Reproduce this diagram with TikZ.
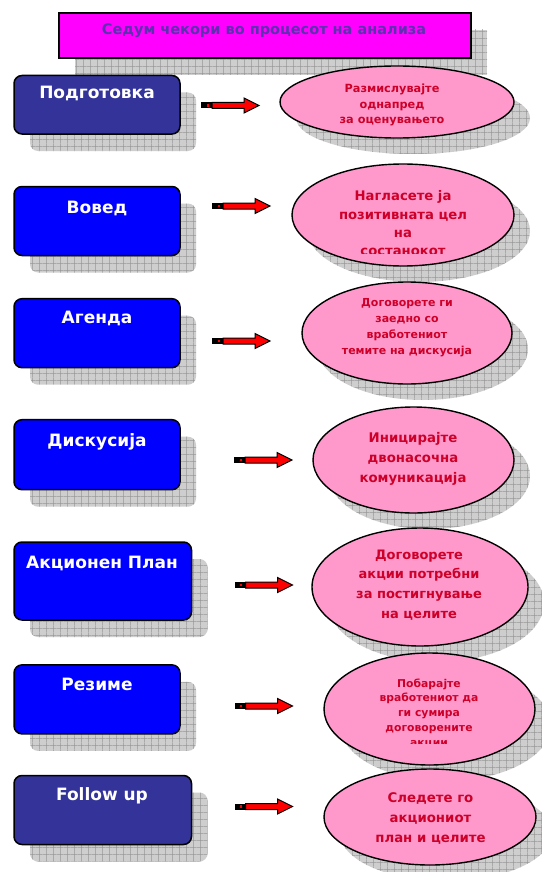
\documentclass[tikz,border=0pt]{standalone}
\usepackage{fontspec}
\setmainfont{DejaVu Sans}
\usetikzlibrary{shapes.geometric,patterns.meta}

\definecolor{navybox}{RGB}{51,51,153}
\definecolor{bluebox}{RGB}{0,0,255}
\definecolor{pinkfill}{RGB}{255,153,204}
\definecolor{redtext}{RGB}{204,0,40}
\definecolor{titlefill}{RGB}{255,0,255}
\definecolor{titletext}{RGB}{90,50,175}
\definecolor{shadowgray}{RGB}{206,206,206}
\definecolor{gridgray}{RGB}{150,150,150}

% checkered grid used inside the drop shadows
\tikzdeclarepattern{
  name=shadowgrid,
  type=uncolored,
  bottom left={(0pt,0pt)},
  top right={(7.3pt,7.3pt)},
  tile size={(7.3pt,7.3pt)},
  code={
    \draw[line width=0.45pt] (0pt,3.65pt) -- (7.3pt,3.65pt) (3.65pt,0pt) -- (3.65pt,7.3pt);
  }
}

\tikzset{
  gridshadow/.style={draw=none, fill=shadowgray, postaction={pattern=shadowgrid, pattern color=gridgray}},
  plainshadow/.style={rectangle, inner sep=0pt, gridshadow},
  titlebox/.style={rectangle, inner sep=0pt, draw=black, line width=1.5pt, fill=titlefill},
  titlelabel/.style={text=titletext, font=\bfseries\fontsize{14.5}{17}\selectfont, anchor=mid, inner sep=0pt},
  boxshadow/.style={rectangle, rounded corners=8pt, inner sep=0pt, gridshadow},
  stepbox/.style={rectangle, rounded corners=8pt, draw=black, line width=1.5pt, inner sep=0pt},
  boxlabel/.style={text=white, font=\bfseries\fontsize{17}{20}\selectfont, anchor=mid, inner sep=0pt},
  ellshadow/.style={ellipse, inner sep=0pt, gridshadow},
  goalellipse/.style={ellipse, draw=black, line width=1.4pt, fill=pinkfill, inner sep=0pt},
  goallabel/.style 2 args={text=redtext, align=center, inner sep=0pt,
    font=\bfseries\fontsize{#1}{#2}\selectfont},
  fatarrow/.pic={
    \fill[black] (0,-3) rectangle (11,3);
    \fill[red] (5.5,-1.4) rectangle (7.5,1.4);
    \draw[fill=red, line width=1pt, line join=miter]
      (11,-3) -- (43,-3) -- (43,-7.5) -- (58,0) -- (43,7.5) -- (43,3) -- (11,3) -- cycle;
  }
}

\begin{document}
\begin{tikzpicture}[x=1pt, y=-1pt]
\useasboundingbox[fill=white] (0,0) rectangle (541,872);

% heading
\node[plainshadow, minimum width=412pt, minimum height=45pt] (titleshadow) at (281,52.5) {};
\node[titlebox, minimum width=412pt, minimum height=45pt] (title) at (265,35.5) {};
\node[titlelabel] (titletext) at (264,32) {Седум чекори во процесот на анализа};

% 1. preparation
\node[boxshadow, minimum width=166pt, minimum height=58.5pt] (r1s) at (113,121.75) {};
\node[stepbox, fill=navybox, minimum width=166pt, minimum height=58.5pt] (r1) at (97,104.75) {};
\node[boxlabel] (r1t) at (97,96) {Подготовка};
\coordinate (a1) at (201,105.5);
\pic at (a1) {fatarrow};
\node[ellshadow, minimum width=234pt, minimum height=72pt] (e1s) at (413,118) {};
\node[goalellipse, minimum width=234pt, minimum height=72pt] (e1) at (397,102) {};
\node[goallabel={11.3}{15.5}] (e1t) at (392,105) {Размислувајте\\однапред\\за оценувањето};

% 2. introduction
\node[boxshadow, minimum width=166pt, minimum height=69pt] (r2s) at (113,238) {};
\node[stepbox, fill=bluebox, minimum width=166pt, minimum height=69pt] (r2) at (97,221) {};
\node[boxlabel] (r2t) at (97,211) {Вовед};
\coordinate (a2) at (212,206);
\pic at (a2) {fatarrow};
\node[ellshadow, minimum width=222pt, minimum height=102pt] (e2s) at (419,231) {};
\node[goalellipse, minimum width=222pt, minimum height=102pt] (e2) at (403,215) {};
\begin{scope}
  \clip (280,150) rectangle (530,253);
  \node[goallabel={13.2}{18.3}] (e2t) at (403,223.5) {Нагласете ја\\позитивната цел\\на\\состанокот};
\end{scope}

% 3. agenda
\node[boxshadow, minimum width=166pt, minimum height=69pt] (r3s) at (113,350.2) {};
\node[stepbox, fill=bluebox, minimum width=166pt, minimum height=69pt] (r3) at (97,333.2) {};
\node[boxlabel] (r3t) at (97,321) {Агенда};
\coordinate (a3) at (212,341);
\pic at (a3) {fatarrow};
\node[ellshadow, minimum width=210pt, minimum height=102pt] (e3s) at (423,349) {};
\node[goalellipse, minimum width=210pt, minimum height=102pt] (e3) at (407,333) {};
\node[goallabel={11}{16}] (e3t) at (407,328) {Договорете ги\\заедно со\\вработениот\\темите на дискусија};

% 4. discussion
\node[boxshadow, minimum width=166pt, minimum height=70pt] (r4s) at (113,471.7) {};
\node[stepbox, fill=bluebox, minimum width=166pt, minimum height=70pt] (r4) at (97,454.7) {};
\node[boxlabel] (r4t) at (97,444) {Дискусија};
\coordinate (a4) at (234,460);
\pic at (a4) {fatarrow};
\node[ellshadow, minimum width=201pt, minimum height=106pt] (e4s) at (429.5,476) {};
\node[goalellipse, minimum width=201pt, minimum height=106pt] (e4) at (413.5,460) {};
\node[goallabel={13.3}{20}] (e4t) at (413,459) {Иницирајте\\двонасочна\\комуникација};

% 5. action plan
\node[boxshadow, minimum width=177.5pt, minimum height=78pt] (r5s) at (118.75,598) {};
\node[stepbox, fill=bluebox, minimum width=177.5pt, minimum height=78pt] (r5) at (102.75,581) {};
\node[boxlabel] (r5t) at (102,566) {Акционен План};
\coordinate (a5) at (234.6,585);
\pic at (a5) {fatarrow};
\node[ellshadow, minimum width=216pt, minimum height=118pt] (e5s) at (436,603) {};
\node[goalellipse, minimum width=216pt, minimum height=118pt] (e5) at (420,587) {};
\node[goallabel={13}{19.7}] (e5t) at (419,585) {Договорете\\акции потребни\\за постигнување\\на целите};

% 6. summary
\node[boxshadow, minimum width=166pt, minimum height=69pt] (r6s) at (113,716.4) {};
\node[stepbox, fill=bluebox, minimum width=166pt, minimum height=69pt] (r6) at (97,699.4) {};
\node[boxlabel] (r6t) at (97,687.6) {Резиме};
\coordinate (a6) at (234.6,706);
\pic at (a6) {fatarrow};
\node[ellshadow, minimum width=211pt, minimum height=112pt] (e6s) at (445.5,725) {};
\node[goalellipse, minimum width=211pt, minimum height=112pt] (e6) at (429.5,709) {};
\begin{scope}
  \clip (320,650) rectangle (540,743.5);
  \node[goallabel={10.8}{14.75}] (e6t) at (429,713) {Побарајте\\вработениот да\\ги сумира\\договорените\\акции};
\end{scope}

% 7. follow up
\node[boxshadow, minimum width=177.5pt, minimum height=69pt] (r7s) at (118.75,827) {};
\node[stepbox, fill=navybox, minimum width=177.5pt, minimum height=69pt] (r7) at (102.75,810) {};
\node[boxlabel] (r7t) at (102,798) {Follow up};
\coordinate (a7) at (234.6,806.5);
\pic at (a7) {fatarrow};
\node[ellshadow, minimum width=212pt, minimum height=96pt] (e7s) at (446,833) {};
\node[goalellipse, minimum width=212pt, minimum height=96pt] (e7) at (430,817) {};
\node[goallabel={13.3}{20}] (e7t) at (430.5,818) {Следете го\\акциониот\\план и целите};
\end{tikzpicture}
\end{document}
